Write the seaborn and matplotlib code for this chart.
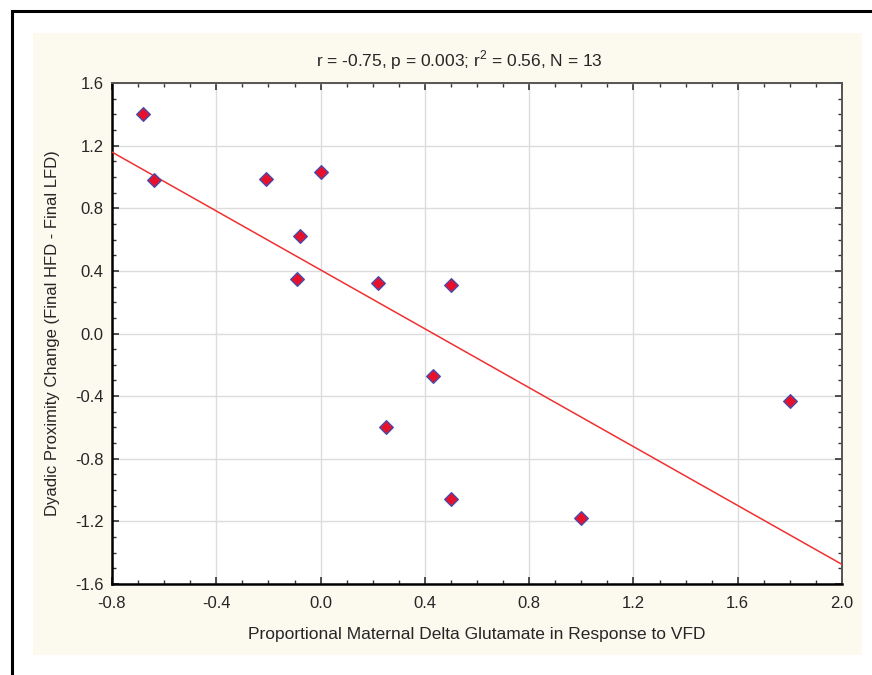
import numpy as np
import pandas as pd
import matplotlib
matplotlib.use('Agg')
import matplotlib.pyplot as plt
import matplotlib.patches as patches
from matplotlib.ticker import MultipleLocator, FormatStrFormatter
import seaborn as sns

# values
glutamate = [-0.68, -0.64, -0.21, 0.00, -0.08, -0.09, 0.22, 0.50, 0.43, 0.25, 0.50, 1.00, 1.80]
proximity = [1.40, 0.98, 0.99, 1.03, 0.62, 0.35, 0.32, 0.31, -0.27, -0.60, -1.06, -1.18, -0.43]

x_label = 'Proportional Maternal Delta Glutamate in Response to VFD'
y_label = 'Dyadic Proximity Change (Final HFD - Final LFD)'
title = 'r = -0.75, p = 0.003; r$^2$ = 0.56, N = 13'

def draw_scatter(df):
	sns.set_style('white')
	plt.rcParams['font.family'] = ['Liberation Sans', 'DejaVu Sans']
	plt.rcParams['mathtext.fontset'] = 'custom'
	plt.rcParams['mathtext.rm'] = 'Liberation Sans'

	fig = plt.figure(figsize=(8.72, 6.75), dpi=100, facecolor='white')

	# outer frame and cream panel
	fig.patches.append(patches.Rectangle((0.0132, -0.05), 1.2, 1.0332, transform=fig.transFigure,
		fill=False, edgecolor='black', linewidth=2.2, zorder=-2))
	fig.patches.append(patches.Rectangle((33 / 872, 1 - 655 / 675), 829 / 872, 622 / 675,
		transform=fig.transFigure, facecolor='#FCF9EE', edgecolor='none', zorder=-1))

	ax = fig.add_axes([112 / 872, 1 - 584 / 675, 730 / 872, 501 / 675])
	ax.set_facecolor('white')
	ax.set_xlim(-0.8, 2.0)
	ax.set_ylim(-1.6, 1.6)

	sns.regplot(data=df, x='glutamate', y='proximity', ax=ax, ci=None, truncate=False,
		marker='D',
		scatter_kws={'s': 48, 'color': '#E8112B', 'edgecolors': '#4A4AA8', 'linewidths': 1.0, 'alpha': 1, 'zorder': 4},
		line_kws={'color': '#F03030', 'linewidth': 1.1, 'zorder': 3})

	ax.xaxis.set_major_locator(MultipleLocator(0.4))
	ax.xaxis.set_minor_locator(MultipleLocator(0.1))
	ax.yaxis.set_major_locator(MultipleLocator(0.4))
	ax.yaxis.set_minor_locator(MultipleLocator(0.1))
	ax.xaxis.set_major_formatter(FormatStrFormatter('%.1f'))
	ax.yaxis.set_major_formatter(FormatStrFormatter('%.1f'))
	ax.grid(True, which='major', color='#DCDCDC', linewidth=1.0)
	ax.set_axisbelow(True)

	ax.tick_params(which='both', direction='in', top=True, right=True, left=True, bottom=True,
		color='#333333', labelsize=12)
	ax.tick_params(which='major', length=5, width=1.2)
	ax.tick_params(which='minor', length=3, width=1.0)
	ax.tick_params(axis='x', pad=9)
	ax.tick_params(axis='y', pad=6)

	for side in ['left', 'bottom']:
		ax.spines[side].set_color('black')
		ax.spines[side].set_linewidth(1.8)
	for side in ['top', 'right']:
		ax.spines[side].set_color('#555555')
		ax.spines[side].set_linewidth(1.4)

	ax.set_xlabel(x_label, fontsize=12.5, labelpad=11)
	ax.set_ylabel(y_label, fontsize=12, labelpad=11)
	fig.text(459 / 872, 1 - 60 / 675, title, fontsize=12.5, ha='center', va='center')

	fig.savefig('out.png', dpi=100, facecolor='white')

def main():
	df = pd.DataFrame({'glutamate': glutamate, 'proximity': proximity})
	draw_scatter(df)

if __name__ == '__main__':
	main()
